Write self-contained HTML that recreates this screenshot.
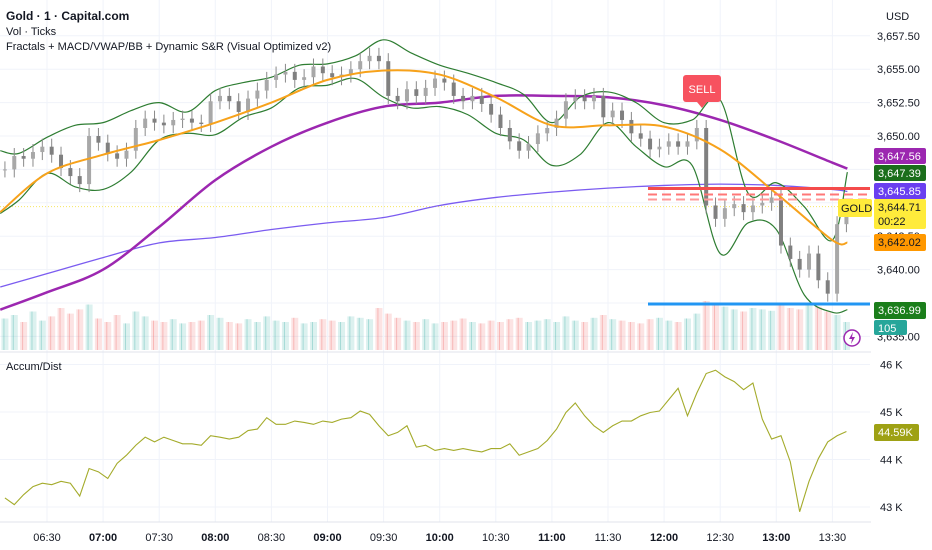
<!DOCTYPE html>
<html><head><meta charset="utf-8">
<style>
html,body{margin:0;padding:0;background:#fff;width:932px;height:550px;overflow:hidden;font-family:"Liberation Sans",sans-serif;}
svg{display:block}
</style></head>
<body>
<svg id="chart" width="932" height="550" xmlns="http://www.w3.org/2000/svg" font-family="Liberation Sans, sans-serif"></svg>
<script>
// ---- data (5-minute bars starting 06:05) ----
const closes=[3647.5,3648.5,3648.3,3648.8,3649.2,3648.6,3647.6,3647.0,3646.4,3650.0,3649.5,3648.7,3648.3,3648.9,3650.6,3651.3,3651.0,3650.8,3651.2,3651.3,3651.0,3650.9,3652.6,3653.0,3652.6,3651.8,3652.8,3653.4,3654.2,3654.6,3654.8,3654.2,3654.4,3655.2,3654.7,3654.4,3654.6,3655.0,3655.6,3656.0,3655.6,3653.0,3652.6,3653.5,3653.0,3653.6,3654.3,3654.0,3653.0,3652.6,3653.0,3652.4,3651.6,3650.6,3649.6,3648.9,3649.4,3650.2,3650.6,3651.3,3652.6,3652.9,3652.6,3653.0,3651.4,3651.9,3651.2,3650.2,3649.8,3649.0,3649.2,3649.6,3649.2,3649.6,3650.6,3644.8,3643.8,3644.6,3644.9,3644.3,3644.8,3645.0,3645.4,3641.8,3640.8,3640.0,3641.2,3639.2,3638.2,3643.4,3644.7];
const volumes=[45,50,40,55,42,48,60,52,58,65,45,40,50,38,55,48,42,40,44,38,40,42,50,46,40,38,44,40,48,42,40,46,38,40,44,42,40,48,46,44,60,52,46,42,40,44,38,40,42,45,40,38,42,40,44,46,40,42,44,40,48,42,40,46,50,44,42,40,38,44,46,42,40,45,52,70,66,62,58,55,60,58,56,64,60,58,66,62,55,50,40];
const accDist=[43.19,43.05,43.26,43.43,43.5,43.47,43.54,43.5,43.23,43.81,43.74,43.6,43.92,44.09,44.3,44.47,44.37,44.47,44.4,44.33,44.33,44.3,44.5,44.47,44.43,44.47,44.61,44.64,44.88,44.74,44.74,44.81,44.78,44.74,44.81,44.78,44.85,44.88,45.02,44.95,44.71,44.5,44.57,44.71,44.26,44.3,44.19,44.23,44.19,44.23,44.19,44.16,44.23,44.23,44.33,44.09,44.16,44.23,44.4,44.64,44.99,45.19,44.92,44.71,44.57,44.71,44.81,44.81,44.92,44.99,45.02,45.26,45.5,44.92,45.4,45.81,45.88,45.74,45.64,45.47,45.61,44.85,44.43,44.5,43.95,42.9,43.54,44.02,44.37,44.5,44.59];
const maMinutes=[-25,0,30,60,90,120,150,180,210,240,270,300,330,360,390,420,428];
const emaVals=[3644.3,3647.2,3648.6,3649.7,3651.0,3652.5,3654.2,3654.9,3654.6,3652.9,3650.8,3650.8,3650.7,3649.0,3645.7,3642.2,3642.02];
const smaVals=[3637.0,3638.3,3640.0,3643.2,3646.7,3649.2,3651.0,3652.2,3652.5,3653.0,3653.0,3652.9,3652.3,3651.2,3649.7,3648.0,3647.56];
const vwapVals=[3638.7,3639.7,3640.9,3642.0,3642.4,3643.0,3643.5,3643.9,3644.8,3645.4,3645.8,3646.1,3646.3,3646.4,3646.3,3646.0,3645.85];
const bbMinutes=[-25,-15,0,15,30,45,60,75,90,105,120,135,150,165,180,195,210,225,240,255,270,285,300,315,330,345,360,375,390,405,420,428];
const bbUpper=[3648.9,3648.7,3649.9,3650.8,3651.0,3651.9,3652.5,3651.8,3653.4,3654.0,3654.4,3655.3,3655.4,3656.0,3657.2,3656.2,3655.3,3654.7,3654.0,3653.1,3651.0,3652.9,3653.3,3652.5,3651.0,3651.2,3652.7,3645.7,3646.5,3644.7,3642.2,3647.3];
const bbLower=[3644.2,3645.2,3647.2,3646.2,3646.0,3647.3,3649.7,3650.2,3650.1,3651.4,3652.1,3653.6,3653.8,3654.3,3652.9,3652.1,3652.2,3651.6,3650.2,3649.7,3647.8,3648.6,3651.0,3649.2,3647.7,3647.8,3641.2,3643.5,3643.0,3638.1,3636.8,3637.0];
const timeLabels=["06:30","07:00","07:30","08:00","08:30","09:00","09:30","10:00","10:30","11:00","11:30","12:00","12:30","13:00","13:30"];
const priceTicks=[3657.5,3655,3652.5,3650,3642.5,3640,3635];
const adTicks=[46,45,44,43];
const resistance=3645.85, support=3637.5, lastPrice=3644.71;

const xMin=m=>47+m*1.87;
const xBar=k=>xMin(-25+5*k+2.5);
const yP=p=>136+(3650-p)*13.36;
const yAD=v=>412+(45-v)*47.5;
const svg=document.getElementById('chart');
const NS='http://www.w3.org/2000/svg';
function mk(tag,attrs,parent){const e=document.createElementNS(NS,tag);for(const k in attrs)e.setAttribute(k,attrs[k]);(parent||svg).appendChild(e);return e;}
function smooth(pts){let d=`M${pts[0][0]},${pts[0][1]}`;for(let i=0;i<pts.length-1;i++){const p0=pts[Math.max(0,i-1)],p1=pts[i],p2=pts[i+1],p3=pts[Math.min(pts.length-1,i+2)];d+=` C${p1[0]+(p2[0]-p0[0])/6},${p1[1]+(p2[1]-p0[1])/6} ${p2[0]-(p3[0]-p1[0])/6},${p2[1]-(p3[1]-p1[1])/6} ${p2[0]},${p2[1]}`;}return d;}

const grid=mk('g',{});


timeLabels.forEach((t,i)=>{const x=xMin(i*30);mk('line',{x1:x,x2:x,y1:0,y2:522,stroke:'#f0f3fa'},grid);});
[3657.5,3655,3652.5,3650,3647.5,3645,3642.5,3640,3637.5,3635].forEach(p=>mk('line',{x1:0,x2:870,y1:yP(p),y2:yP(p),stroke:'#f0f3fa'},grid));
adTicks.forEach(v=>mk('line',{x1:0,x2:870,y1:yAD(v),y2:yAD(v),stroke:'#f0f3fa'},grid));
mk('line',{x1:0,x2:932,y1:352,y2:352,stroke:'#e0e3eb'},grid);
mk('line',{x1:0,x2:932,y1:522,y2:522,stroke:'#e0e3eb'},grid);

const vol=mk('g',{});


volumes.forEach((v,k)=>{const o=k?closes[k-1]:closes[0];const up=closes[k]>=o;const h=v*0.7;
 const r=mk('rect',{x:xBar(k)-3.5,y:350-h,width:7,height:h,fill:up?'rgba(38,166,154,0.16)':'rgba(239,83,80,0.16)'},vol);
 
 
 mk('line',{x1:xBar(k)-1,x2:xBar(k)-1,y1:350-h,y2:350,stroke:up?'rgba(38,166,154,0.3)':'rgba(239,83,80,0.3)','stroke-width':1},vol);});

mk('line',{x1:0,x2:870,y1:yP(lastPrice),y2:yP(lastPrice),stroke:'#f5e663','stroke-dasharray':'1,2','stroke-width':1});

function line(vals,mins,color,w,name){const p=mk('path',{d:smooth(vals.map((v,i)=>[xMin(mins[i]),yP(v)])),fill:'none',stroke:color,'stroke-width':w});
 
 }
line(vwapVals,maMinutes,'#7b5cf0',1.3,'vwap-line');
line(smaVals,maMinutes,'#9c27b0',2.5,'sma-line');
line(bbUpper,bbMinutes,'#2e7d32',1.2,'bollinger-upper');
line(bbLower,bbMinutes,'#2e7d32',1.2,'bollinger-lower');

const cg=mk('g',{});


closes.forEach((c,k)=>{const o=k?closes[k-1]:c;const x=xBar(k);const hi=Math.max(o,c)+0.6,lo=Math.min(o,c)-0.6;
 mk('line',{x1:x,x2:x,y1:yP(hi),y2:yP(lo),stroke:'#8a8a8a','stroke-width':1},cg);
 const top=yP(Math.max(o,c)),h=Math.max(1,yP(Math.min(o,c))-top);
 const b=mk('rect',{x:x-2,y:top,width:4,height:h,fill:c>=o?'#a8a8a8':'#808080'},cg);
 
 });
line(emaVals,maMinutes,'#f7a21b',2,'ema-line');

const sr=mk('g',{});


mk('line',{x1:648,x2:870,y1:yP(resistance)-3,y2:yP(resistance)-3,stroke:'#f44b4b','stroke-width':3},sr);
mk('line',{x1:648,x2:870,y1:yP(resistance)+3,y2:yP(resistance)+3,stroke:'#f77','stroke-width':2,'stroke-dasharray':'9,5'},sr);
mk('line',{x1:648,x2:870,y1:yP(resistance)+8,y2:yP(resistance)+8,stroke:'#f99','stroke-width':2,'stroke-dasharray':'9,5'},sr);
const sup=mk('line',{x1:648,x2:870,y1:yP(support)+1,y2:yP(support)+1,stroke:'#2196f3','stroke-width':3});



const sell=mk('g',{});


mk('rect',{x:683,y:75,width:38,height:27,rx:3,fill:'#f7525f'},sell);
mk('path',{d:'M697,102 L702,108 L707,102 Z',fill:'#f7525f'},sell);
const st=mk('text',{x:702,y:93,'font-size':11,fill:'#fff','text-anchor':'middle'},sell);st.textContent='SELL';

const ad=mk('path',{d:'M'+accDist.map((v,k)=>`${xBar(k)},${yAD(v)}`).join(' L'),fill:'none',stroke:'#a4ab2b','stroke-width':1.1});



mk('rect',{x:871,y:0,width:61,height:550,fill:'#fff'});
function txt(x,y,s,attrs,name,inter){const t=mk('text',Object.assign({x:x,y:y,'font-size':11,fill:'#131722'},attrs||{}));t.textContent=s;
 
 return t;}
txt(886,20,'USD',{'font-size':11},'currency-label',true);
priceTicks.forEach(p=>txt(877,yP(p)+4,p.toLocaleString('en-US',{minimumFractionDigits:2}),{},'price-tick'));
adTicks.forEach(v=>txt(880,yAD(v)+4,v+' K',{},'ad-tick'));
function badge(y,h,w,bg,fg,lines,name){const g=mk('g',{});
 
 
 mk('rect',{x:874,y:y,width:w,height:h,rx:2,fill:bg},g);
 lines.forEach((s,i)=>{const t=mk('text',{x:878,y:y+12+i*14,'font-size':11,fill:fg},g);t.textContent=s;});}
badge(148,16,52,'#9c27b0','#fff',['3,647.56'],'sma-badge');
badge(165,16,52,'#1b6e1b','#fff',['3,647.39'],'bb-upper-badge');
badge(183,16,52,'#6a3ff0','#fff',['3,645.85'],'vwap-badge');
badge(199,30,52,'#ffeb3b','#131722',['3,644.71','00:22'],'last-price-badge');
badge(234,17,52,'#ff9800','#131722',['3,642.02'],'ema-badge');
badge(302,17,52,'#1b7e1b','#fff',['3,636.99'],'bb-lower-badge');
badge(320,15,33,'#26a69a','#fff',['105'],'volume-badge');
badge(424,17,45,'#9ea114','#fff',['44.59K'],'ad-badge');
const gold=mk('g',{});


mk('rect',{x:838,y:199,width:34,height:18,rx:2,fill:'#ffeb3b'},gold);
const gt=mk('text',{x:841,y:212,'font-size':11,fill:'#131722'},gold);gt.textContent='GOLD';
const bolt=mk('g',{});


mk('circle',{cx:852,cy:338,r:8,fill:'#fff',stroke:'#9c27b0','stroke-width':1.5},bolt);
mk('path',{d:'M853,332 L849,339 L852,339 L851,344 L855,337 L852,337 Z',fill:'#9c27b0'},bolt);

timeLabels.forEach((t,i)=>txt(xMin(i*30),541,t,{'text-anchor':'middle','font-weight':t.endsWith(':00')?'bold':'normal'},'time-label'));

txt(6,20,'Gold · 1 · Capital.com',{'font-size':12,'font-weight':'bold'},'symbol-title',true);
txt(6,35,'Vol · Ticks',{'font-size':11},'volume-legend',true);
txt(6,50,'Fractals + MACD/VWAP/BB + Dynamic S&R (Visual Optimized v2)',{'font-size':11},'indicator-legend',true);
txt(6,370,'Accum/Dist',{'font-size':11},'ad-legend',true);
</script>
</body></html>
